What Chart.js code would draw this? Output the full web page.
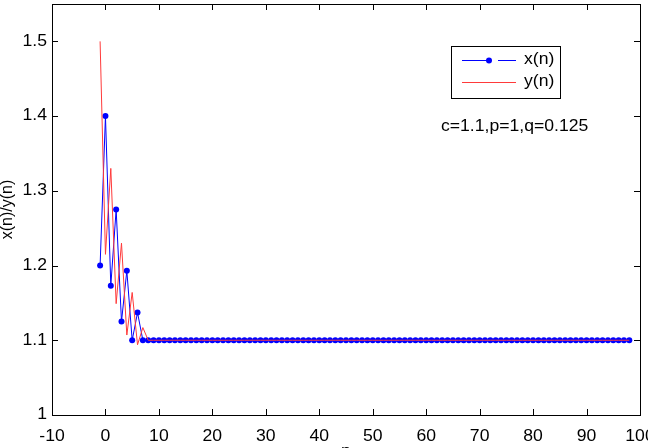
<!DOCTYPE html>
<html>
<head>
<meta charset="utf-8">
<script src="https://cdn.jsdelivr.net/npm/chart.js@4.4.1/dist/chart.umd.min.js"></script>
<style>
  html, body { margin: 0; padding: 0; background: #fff; }
  canvas { display: block; }
</style>
</head>
<body>
<canvas id="chart" width="648" height="448"></canvas>
<script>
// n from -1 to 98
const nValues = [
  -1, 0, 1, 2, 3, 4, 5, 6, 7, 8, 9,
  10, 11, 12, 13, 14, 15, 16, 17, 18, 19,
  20, 21, 22, 23, 24, 25, 26, 27, 28, 29,
  30, 31, 32, 33, 34, 35, 36, 37, 38, 39,
  40, 41, 42, 43, 44, 45, 46, 47, 48, 49,
  50, 51, 52, 53, 54, 55, 56, 57, 58, 59,
  60, 61, 62, 63, 64, 65, 66, 67, 68, 69,
  70, 71, 72, 73, 74, 75, 76, 77, 78, 79,
  80, 81, 82, 83, 84, 85, 86, 87, 88, 89,
  90, 91, 92, 93, 94, 95, 96, 97, 98
];
const xSeries = [
  1.2, 1.4, 1.173, 1.275, 1.125, 1.193, 1.1, 1.137, 1.1, 1.1, 1.1,
  1.1, 1.1, 1.1, 1.1, 1.1, 1.1, 1.1, 1.1, 1.1, 1.1,
  1.1, 1.1, 1.1, 1.1, 1.1, 1.1, 1.1, 1.1, 1.1, 1.1,
  1.1, 1.1, 1.1, 1.1, 1.1, 1.1, 1.1, 1.1, 1.1, 1.1,
  1.1, 1.1, 1.1, 1.1, 1.1, 1.1, 1.1, 1.1, 1.1, 1.1,
  1.1, 1.1, 1.1, 1.1, 1.1, 1.1, 1.1, 1.1, 1.1, 1.1,
  1.1, 1.1, 1.1, 1.1, 1.1, 1.1, 1.1, 1.1, 1.1, 1.1,
  1.1, 1.1, 1.1, 1.1, 1.1, 1.1, 1.1, 1.1, 1.1, 1.1,
  1.1, 1.1, 1.1, 1.1, 1.1, 1.1, 1.1, 1.1, 1.1, 1.1,
  1.1, 1.1, 1.1, 1.1, 1.1, 1.1, 1.1, 1.1, 1.1
];
const ySeries = [
  1.5, 1.215, 1.33, 1.149, 1.23, 1.107, 1.164, 1.094, 1.117, 1.1, 1.1,
  1.1, 1.1, 1.1, 1.1, 1.1, 1.1, 1.1, 1.1, 1.1, 1.1,
  1.1, 1.1, 1.1, 1.1, 1.1, 1.1, 1.1, 1.1, 1.1, 1.1,
  1.1, 1.1, 1.1, 1.1, 1.1, 1.1, 1.1, 1.1, 1.1, 1.1,
  1.1, 1.1, 1.1, 1.1, 1.1, 1.1, 1.1, 1.1, 1.1, 1.1,
  1.1, 1.1, 1.1, 1.1, 1.1, 1.1, 1.1, 1.1, 1.1, 1.1,
  1.1, 1.1, 1.1, 1.1, 1.1, 1.1, 1.1, 1.1, 1.1, 1.1,
  1.1, 1.1, 1.1, 1.1, 1.1, 1.1, 1.1, 1.1, 1.1, 1.1,
  1.1, 1.1, 1.1, 1.1, 1.1, 1.1, 1.1, 1.1, 1.1, 1.1,
  1.1, 1.1, 1.1, 1.1, 1.1, 1.1, 1.1, 1.1, 1.1
];
const xTicks = [-10, 0, 10, 20, 30, 40, 50, 60, 70, 80, 90, 100];
const yTicks = [1, 1.1, 1.2, 1.3, 1.4, 1.5];
const yTickLabels = ["1", "1.1", "1.2", "1.3", "1.4", "1.5"];
const seriesNames = ["x(n)", "y(n)"];
const note = "c=1.1,p=1,q=0.125";

const FONT = "Liberation Sans, Arial, sans-serif";
const BLUE = "#0000ff";
const RED = "#ff3a3a";
const STRETCH = 1.1; // text in the picture is a little wider than Arial

// text drawn slightly stretched sideways
function wideText(ctx, text, x, y, align) {
  const w = ctx.measureText(text).width * STRETCH;
  let left = x;
  if (align === "center") left = x - w / 2;
  if (align === "right") left = x - w;
  ctx.save();
  ctx.translate(left, y);
  ctx.scale(STRETCH, 1);
  ctx.textAlign = "left";
  ctx.fillText(text, 0, 0);
  ctx.restore();
}

function hLine(ctx, x1, x2, y) {
  ctx.beginPath();
  ctx.moveTo(x1, y + 0.5);
  ctx.lineTo(x2, y + 0.5);
  ctx.stroke();
}

// frame, inward ticks, tick labels, axis titles, legend box and note
const matlabAxes = {
  id: "matlabAxes",
  afterDraw(chart) {
    const { ctx, chartArea: a, scales } = chart;
    ctx.save();
    ctx.strokeStyle = "#000";
    ctx.lineWidth = 1;
    ctx.strokeRect(a.left + 0.5, a.top + 0.5, a.right - a.left, a.bottom - a.top);
    const len = 6;
    ctx.beginPath();
    xTicks.forEach((v) => {
      const px = Math.round(scales.x.getPixelForValue(v)) + 0.5;
      ctx.moveTo(px, a.bottom);
      ctx.lineTo(px, a.bottom - len);
      ctx.moveTo(px, a.top);
      ctx.lineTo(px, a.top + len);
    });
    yTicks.forEach((v) => {
      const py = Math.round(scales.y.getPixelForValue(v)) + 0.5;
      ctx.moveTo(a.left, py);
      ctx.lineTo(a.left + len, py);
      ctx.moveTo(a.right, py);
      ctx.lineTo(a.right - len, py);
    });
    ctx.stroke();

    ctx.fillStyle = "#000";
    ctx.font = "16px " + FONT;
    ctx.textBaseline = "middle";
    xTicks.forEach((v) => {
      wideText(ctx, String(v), scales.x.getPixelForValue(v), a.bottom + 22, "center");
    });
    yTicks.forEach((v, i) => {
      wideText(ctx, yTickLabels[i], a.left - 5, scales.y.getPixelForValue(v), "right");
    });

    ctx.textBaseline = "top";
    wideText(ctx, "n", (a.left + a.right) / 2, 444, "center");

    ctx.save();
    ctx.translate(8, (a.top + a.bottom) / 2);
    ctx.rotate(-Math.PI / 2);
    ctx.textBaseline = "middle";
    ctx.textAlign = "center";
    ctx.fillText("x(n)/y(n)", 0, 0);
    ctx.restore();

    // legend
    const bx = 451, by = 46, bw = 109, bh = 52;
    ctx.fillStyle = "#fff";
    ctx.fillRect(bx, by, bw, bh);
    ctx.strokeStyle = "#000";
    ctx.strokeRect(bx + 0.5, by + 0.5, bw, bh);
    const rows = [60, 82];
    ctx.strokeStyle = BLUE;
    hLine(ctx, 462, 491, rows[0]);
    hLine(ctx, 498, 516, rows[0]);
    ctx.fillStyle = BLUE;
    ctx.beginPath();
    ctx.arc(489, rows[0] + 0.5, 3, 0, Math.PI * 2);
    ctx.fill();
    ctx.strokeStyle = RED;
    hLine(ctx, 462, 516, rows[1]);
    ctx.fillStyle = "#000";
    ctx.textBaseline = "middle";
    wideText(ctx, seriesNames[0], 524, rows[0], "left");
    wideText(ctx, seriesNames[1], 524, rows[1], "left");

    wideText(ctx, note, 441, 127, "left");
    ctx.restore();
  },
};

new Chart(document.getElementById("chart"), {
  type: "scatter",
  data: {
    datasets: [
      {
        label: seriesNames[0],
        data: nValues.map((n, i) => ({ x: n, y: xSeries[i] })),
        showLine: true,
        borderColor: BLUE,
        backgroundColor: BLUE,
        borderWidth: 1,
        pointRadius: 3,
        pointBorderWidth: 0,
        order: 1,
      },
      {
        label: seriesNames[1],
        data: nValues.map((n, i) => ({ x: n, y: ySeries[i] })),
        showLine: true,
        borderColor: RED,
        backgroundColor: RED,
        borderWidth: 1,
        pointRadius: 0,
        order: 0,
      },
    ],
  },
  options: {
    responsive: false,
    animation: false,
    devicePixelRatio: 1,
    layout: { padding: { top: 3, right: 8, left: 0, bottom: 0 } },
    plugins: {
      legend: { display: false },
      tooltip: { enabled: false },
    },
    scales: {
      x: {
        type: "linear",
        min: -10,
        max: 100,
        afterFit: (scale) => {
          scale.height = 33;
        },
        ticks: { display: false },
        grid: { display: false, drawTicks: false },
        border: { display: false },
      },
      y: {
        min: 1,
        max: 1.55,
        afterFit: (scale) => {
          scale.width = 52;
        },
        ticks: { display: false },
        grid: { display: false, drawTicks: false },
        border: { display: false },
      },
    },
  },
  plugins: [matlabAxes],
});
</script>
</body>
</html>
